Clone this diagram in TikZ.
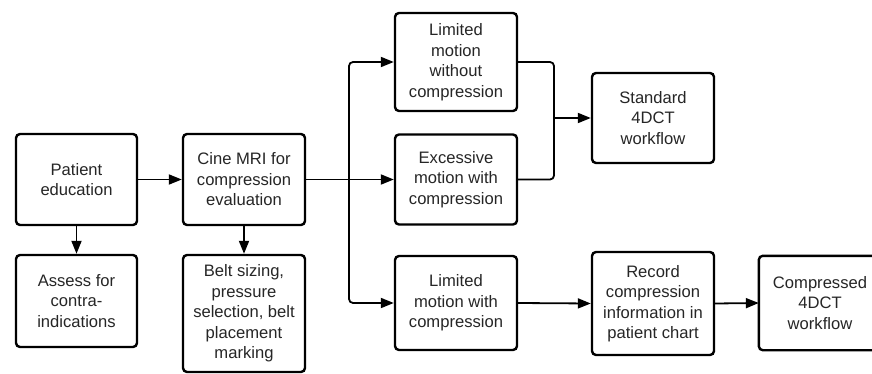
\documentclass[tikz,border=0pt]{standalone}
\usepackage{fontspec}
\setmainfont{Liberation Sans}
\usetikzlibrary{arrows.meta}
\begin{document}
\begin{tikzpicture}[x=1pt,y=-1pt,
  boxtext/.style={align=center,inner sep=0pt,font=\fontsize{16.6}{20.5}\selectfont,text=black!85},
  box/.style={boxtext,draw=black,line width=2.4pt,rounded corners=4pt,fill=white},
  frame/.style={draw=black,line width=2.4pt,rounded corners=4pt},
  conn/.style={draw=black,line width=1.8pt,rounded corners=4pt},
  arr/.style={conn,-{Triangle[length=13pt,width=10pt]}}]
\useasboundingbox (0,0) rectangle (872,374);
\clip (0,0) rectangle (872,374);
\fill[white] (0,0) rectangle (872,374);
\node[box,minimum width=121pt,minimum height=91pt] (pe) at (76.5,179.5) {Patient\\education};
\node[box,minimum width=121pt,minimum height=92pt] (ass) at (76.5,301) {Assess for\\contra-\\indications};
\node[box,minimum width=122pt,minimum height=91pt] (cine) at (244,179.5) {Cine MRI for\\compression\\evaluation};
\node[box,minimum width=122pt,minimum height=117pt] (belt) at (244,313.5) {Belt sizing,\\pressure\\selection, belt\\placement\\marking};
\node[box,minimum width=122pt,minimum height=98pt] (lwo) at (456,62) {Limited\\motion\\without\\compression};
\node[box,minimum width=122pt,minimum height=90pt] (exc) at (456,179.5) {Excessive\\motion with\\compression};
\node[box,minimum width=122pt,minimum height=94pt] (lwc) at (456,303) {Limited\\motion with\\compression};
\node[box,minimum width=122pt,minimum height=90pt] (std) at (653,118) {Standard\\4DCT\\workflow};
\node[box,minimum width=122pt,minimum height=103pt] (rec) at (653,303.5) {Record\\compression\\information in\\patient chart};
\node[boxtext,minimum width=122pt,minimum height=94pt] (cmp) at (820,303) {Compressed\\4DCT\\workflow};
\draw[frame] (cmp.south west) rectangle ([xshift=40pt]cmp.north east);
\coordinate (trunk) at (349,179.5);
\coordinate (merge) at (554,118);
% connectors
\draw[arr] (pe.east) -- (cine.west);
\draw[arr] (pe.south) -- (ass.north);
\draw[arr] (cine.south) -- (belt.north);
\draw[arr] (cine.east) -- (exc.west);
\draw[arr] (trunk) |- (lwo.west);
\draw[arr] (trunk) |- (lwc.west);
\draw[conn] (lwo.east) -| (merge);
\draw[conn] (exc.east) -| (merge);
\draw[arr] (merge) -- (std.west);
\draw[arr] (lwc.east) -- (rec.west);
\draw[arr] (rec.east) -- (cmp.west);
\end{tikzpicture}
\end{document}
